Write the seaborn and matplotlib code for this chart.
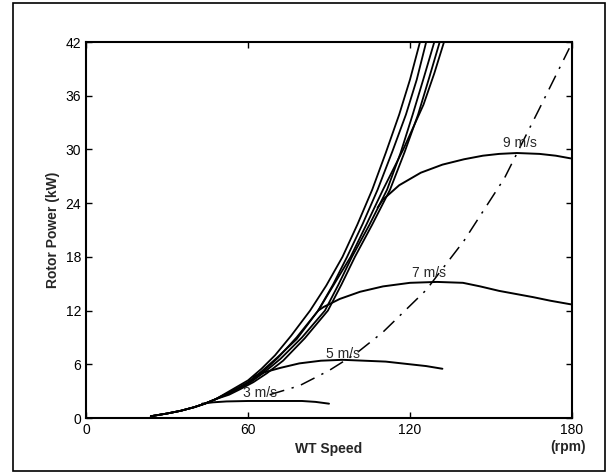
import pandas as pd
import matplotlib
matplotlib.use("Agg")
import matplotlib.pyplot as plt
import seaborn as sns
from matplotlib.patches import Rectangle

# optimal / tracking curves (bundle), speed in rpm, power in kW
bundle_speed = [
    [24, 30, 35, 40, 44, 48, 52, 56, 60, 65, 70, 76, 83, 89, 95, 100.5, 106, 111, 116, 120, 123.7],
    [24, 30, 35, 40, 44, 48, 52, 56, 60, 65, 71, 78, 86, 91.5, 96.7, 102.5, 108, 113.5, 118.5, 122.5, 126],
    [24, 30, 35, 40, 44, 48, 52, 56, 61, 66, 72, 80, 88.5, 93.5, 98.5, 105, 111.5, 116.5, 121, 125, 129],
    [24, 30, 35, 40, 44, 48, 53, 57, 62, 67, 73, 81, 89.6, 94.6, 99.6, 106, 112.6, 118, 123, 127, 131],
    [24, 30, 35, 40, 44, 48, 52, 56, 61, 66, 71, 78, 86, 92, 98, 104, 110, 117.5, 125, 129, 132.6],
]
bundle_power = [
    [0.2, 0.5, 0.8, 1.2, 1.6, 2.1, 2.8, 3.5, 4.2, 5.5, 7.0, 9.2, 12, 14.8, 18, 21.6, 25.5, 29.6, 33.9, 37.8, 42],
    [0.2, 0.5, 0.8, 1.2, 1.6, 2.1, 2.7, 3.3, 4.0, 5.2, 6.8, 8.8, 12, 14.9, 18, 21.7, 25.5, 29.8, 33.9, 37.8, 42],
    [0.2, 0.5, 0.8, 1.2, 1.6, 2.1, 2.6, 3.2, 4.0, 5.1, 6.6, 9.0, 12, 14.9, 18, 21.6, 25.5, 29.6, 33.9, 37.9, 42],
    [0.2, 0.5, 0.8, 1.2, 1.6, 2.1, 2.6, 3.2, 4.0, 5.0, 6.4, 8.9, 12, 14.9, 18, 21.6, 25.5, 29.7, 33.9, 37.9, 42],
    [0.2, 0.5, 0.8, 1.2, 1.6, 2.1, 2.7, 3.3, 4.1, 5.3, 6.7, 9.0, 12, 15.0, 18, 21.7, 25.5, 30.0, 35.0, 38.5, 42],
]

# rotor power curves for constant wind speed
wind_labels = ["3 m/s", "5 m/s", "7 m/s", "9 m/s"]
wind_speed = [
    [43, 47, 52, 60, 70, 80, 85, 90],
    [62, 66, 72, 79, 87, 95, 103, 111, 120, 126, 132],
    [86, 88, 94, 101.5, 110, 120, 130, 139.6, 146, 153, 165.6, 172, 179.5],
    [108, 110, 116, 124, 132, 140, 147, 153, 159.6, 168, 174, 179.5],
]
wind_power = [
    [1.6, 1.75, 1.85, 1.9, 1.9, 1.9, 1.8, 1.6],
    [4.6, 5.1, 5.6, 6.1, 6.4, 6.5, 6.4, 6.3, 6.0, 5.8, 5.5],
    [12.0, 12.4, 13.3, 14.1, 14.7, 15.1, 15.2, 15.1, 14.7, 14.2, 13.5, 13.1, 12.7],
    [23.5, 24.4, 26.0, 27.4, 28.3, 28.9, 29.3, 29.5, 29.6, 29.5, 29.3, 29.0],
]
label_pos = [(64.5, 2.8), (95, 7.2), (127, 16.2), (160.7, 30.7)]

# maximum power point line (dash-dot)
mpp_speed = [68, 79, 90, 100, 110, 126, 140, 155, 168, 179]
mpp_power = [2.6, 3.6, 5.3, 7.2, 9.6, 14.3, 19.8, 26.8, 34.6, 41.3]

sns.set_style("ticks")
plt.rcParams['font.family'] = ['Liberation Sans', 'DejaVu Sans']

fig = plt.figure(figsize=(6.1, 4.74), dpi=100)
ax = fig.add_axes([86 / 610, 1 - 418 / 474, 486 / 610, 376 / 474])

for xs, ys in zip(bundle_speed, bundle_power):
    df = pd.DataFrame({"speed": xs, "power": ys})
    sns.lineplot(data=df, x="speed", y="power", sort=False, estimator=None,
                 color="black", linewidth=1.3, ax=ax)

for xs, ys in zip(wind_speed, wind_power):
    df = pd.DataFrame({"speed": xs, "power": ys})
    sns.lineplot(data=df, x="speed", y="power", sort=False, estimator=None,
                 color="black", linewidth=1.4, ax=ax)

df = pd.DataFrame({"speed": mpp_speed, "power": mpp_power})
sns.lineplot(data=df, x="speed", y="power", sort=False, estimator=None,
             color="black", linewidth=1.1, linestyle=(0, (10, 5, 1.5, 5)), ax=ax)

for lab, (x, y) in zip(wind_labels, label_pos):
    ax.text(x, y, lab, ha="center", va="center", fontsize=10)

ax.set_xlim(0, 180)
ax.set_ylim(0, 42)
ax.set_xticks([0, 60, 120, 180])
ax.set_yticks([0, 6, 12, 18, 24, 30, 36, 42])
ax.tick_params(direction="in", length=4, width=1, top=True, right=True,
               labelsize=10, colors="black")
for s in ax.spines.values():
    s.set_linewidth(1.5)
    s.set_color("black")

ax.set_xlabel("WT Speed", fontsize=10, fontweight="bold", labelpad=4)
ax.set_ylabel("Rotor Power (kW)", fontsize=10, fontweight="bold", labelpad=4)
ax.annotate("(rpm)", xy=(1, 0), xycoords="axes fraction", xytext=(-3, -21),
            textcoords="offset points", ha="center", va="center",
            fontsize=10, fontweight="bold")

fig.patches.append(Rectangle((13 / 610, 3 / 474), 592 / 610, 468 / 474,
                             transform=fig.transFigure, fill=False,
                             edgecolor="black", linewidth=1.2))

fig.savefig("out.png", dpi=100, facecolor="white")
